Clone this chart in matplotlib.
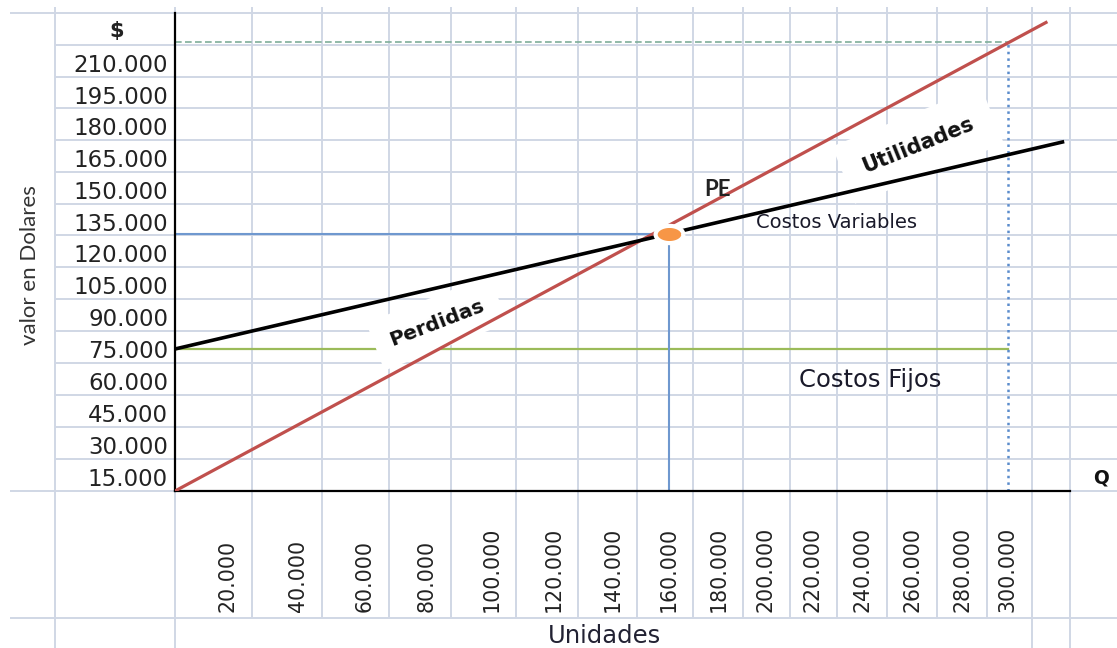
import numpy as np
import matplotlib
matplotlib.use("Agg")
import matplotlib.pyplot as plt

# datos del grafico de punto de equilibrio
unidades_ticks = [20000, 40000, 60000, 80000, 100000, 120000, 140000, 160000,
                  180000, 200000, 220000, 240000, 260000, 280000, 300000]
dolares_ticks = [15000, 30000, 45000, 60000, 75000, 90000, 105000, 120000,
                 135000, 150000, 165000, 180000, 195000, 210000]

ingresos_q = [0, 320000]
ingresos_usd = [0, 229000]
costos_tot_q = [0, 327000]
costos_tot_usd = [75000, 172500]
costos_fijos_q = [0, 300000]
costos_fijos_usd = 75000
pe_q = 160000
pe_usd = 129000
q_max = 300000
ingreso_max = 220000

# hoja de calculo (pixeles)
W, H = 1117, 648
cols = [55, 175, 252, 322, 389, 451, 516, 578, 637, 693, 743, 790, 837, 887,
        937, 987, 1032, 1070, 1117]
rows = [13, 45, 77, 108, 140, 172, 204, 235, 267, 299, 331, 363, 395, 427,
        459, 491]
fila_etiquetas = 618
grid_c = "#d0d7e5"


def fmt(v):
    return f"{v:,}".replace(",", ".")


def tramos(src, dst):
    src = np.asarray(src, float)
    dst = np.asarray(dst, float)

    def f(v):
        v = np.asarray(v, float)
        out = np.interp(v, src, dst)
        out = np.where(v < src[0], dst[0] + (v - src[0]) * (dst[1] - dst[0]) / (src[1] - src[0]), out)
        out = np.where(v > src[-1], dst[-1] + (v - src[-1]) * (dst[-1] - dst[-2]) / (src[-1] - src[-2]), out)
        return out
    return f


# las etiquetas van en el centro de cada celda
x_src = np.arange(0, 340001, 20000)
x_pix = [cols[1]] + [c - 24 for c in cols[2:]]
y_src = np.arange(0, 225001, 15000)
y_pix = [rows[-1]] + [(rows[i] + rows[i + 1]) / 2 + 2 for i in range(len(rows) - 2, -1, -1)]
y_up = [H - p for p in y_pix]

fx, fx_inv = tramos(x_src, x_pix), tramos(x_pix, x_src)
fy, fy_inv = tramos(y_src, y_up), tramos(y_up, y_src)

fig = plt.figure(figsize=(W / 100, H / 100), dpi=100)
fig.patch.set_facecolor("white")

sheet = fig.add_axes([0, 0, 1, 1])
sheet.set_xlim(0, W)
sheet.set_ylim(H, 0)
sheet.axis("off")

for y in rows[1:-1]:
    sheet.hlines(y, 55, W, color=grid_c, lw=1.4)
for y in [rows[0], rows[-1], fila_etiquetas]:
    sheet.hlines(y, 10, W, color=grid_c, lw=1.4)
for x in [55, 175, 1032, 1070]:
    sheet.vlines(x, 7, H, color=grid_c, lw=1.4)
for x in cols[2:-3]:
    sheet.vlines(x, 7, fila_etiquetas, color=grid_c, lw=1.4)

x0, x1 = cols[1], 1070
ax = fig.add_axes([x0 / W, (H - rows[-1]) / H, (x1 - x0) / W, (rows[-1] - rows[0]) / H])
ax.patch.set_alpha(0)
ax.set_xscale("function", functions=(fx, fx_inv))
ax.set_yscale("function", functions=(fy, fy_inv))
ax.set_xlim(0, float(fx_inv(x1)))
ax.set_ylim(0, float(fy_inv(H - rows[0])))
for s in ["top", "right"]:
    ax.spines[s].set_visible(False)
for s in ["left", "bottom"]:
    ax.spines[s].set_color("black")
    ax.spines[s].set_linewidth(1.6)

ax.plot(costos_fijos_q, [costos_fijos_usd] * 2, color="#9bbb59", lw=1.6, zorder=2)
ax.plot([0, q_max], [ingreso_max] * 2, color="#7fae9a", lw=1.2, ls=(0, (4, 2)), zorder=2)
ax.plot([q_max] * 2, [0, ingreso_max], color="#5b8ccc", lw=1.8, ls=":", zorder=2)
ax.plot([0, pe_q], [pe_usd] * 2, color="#6f98cf", lw=1.5, zorder=2)
ax.plot([pe_q] * 2, [0, pe_usd], color="#6f98cf", lw=1.5, zorder=2)
ax.plot(ingresos_q, ingresos_usd, color="#c0504d", lw=2.3, zorder=3)
ax.plot(costos_tot_q, costos_tot_usd, color="black", lw=2.6, zorder=3)

t = np.linspace(0, 2 * np.pi, 60)
elipse = np.column_stack([np.cos(t), 0.62 * np.sin(t)])
ax.plot(pe_q, pe_usd, marker=elipse, ms=20, mfc="#f79646", mec="white",
        mew=3, zorder=4, clip_on=False)

ax.set_xticks(unidades_ticks, [fmt(v) for v in unidades_ticks])
ax.tick_params(axis="x", length=0, pad=87, labelsize=14.8, labelrotation=90,
               labelcolor="#222222")
plt.setp(ax.get_xticklabels(), va="bottom", ha="center")
ax.set_yticks(dolares_ticks, [fmt(v) for v in dolares_ticks])
ax.tick_params(axis="y", length=0, pad=5, labelsize=16.5, labelcolor="#222222")
ax.minorticks_off()

ax.set_ylabel("valor en Dolares", fontsize=16, family="Lato", color="#333333")
ax.yaxis.set_label_coords(30, 265, transform=sheet.transData)
ax.yaxis.label.set_va("center")
ax.set_xlabel("Unidades", fontsize=17.5, color="#222233")
ax.xaxis.set_label_coords(604, 636, transform=sheet.transData)
ax.xaxis.label.set_va("center")

pix = sheet.transData
ax.text(117, 31, "$", transform=pix, ha="center", va="center", fontsize=15,
        fontweight="bold", color="#222222", clip_on=False)
ax.text(1101, 478, "Q", transform=pix, ha="center", va="center", fontsize=13.5,
        fontweight="bold", color="#111111", clip_on=False)
ax.text(718, 190, "PE", transform=pix, ha="center", va="center", fontsize=16,
        fontweight="bold", family="Lato", color="#222222", zorder=5)
ax.text(837, 223, "Costos Variables", transform=pix, ha="center", va="center",
        fontsize=14, color="#1a1a2a", zorder=5)
ax.text(870, 380, "Costos Fijos", transform=pix, ha="center", va="center",
        fontsize=17.5, color="#1a1a2a", zorder=5)
ax.text(918, 145, "Utilidades", transform=pix, ha="center", va="center",
        rotation=22, rotation_mode="anchor", fontsize=15, fontweight="bold",
        color="#111111", zorder=2.5,
        bbox=dict(boxstyle="square,pad=1.0", fc="white", ec="none"))
ax.text(437, 323, "Perdidas", transform=pix, ha="center", va="center",
        rotation=21, rotation_mode="anchor", fontsize=14.5, fontweight="bold",
        color="#111111", zorder=2.5,
        bbox=dict(boxstyle="square,pad=0.8", fc="white", ec="none"))

fig.savefig("out.png", dpi=100)
